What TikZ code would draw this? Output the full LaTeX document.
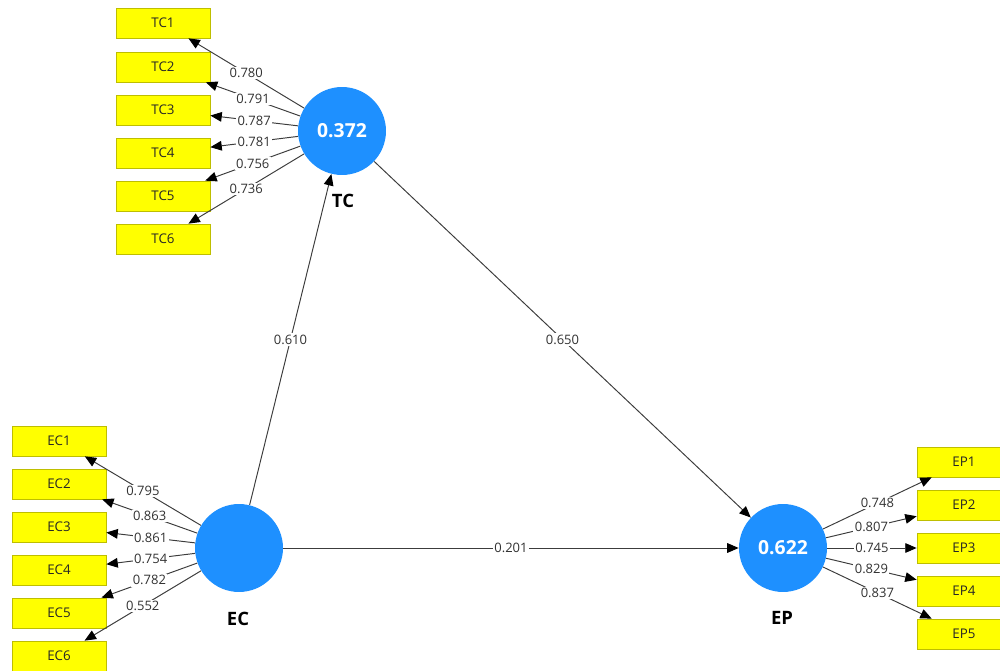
\documentclass[tikz,border=0pt]{standalone}
\usepackage{fontspec}
\setmainfont{Open Sans}
\usetikzlibrary{arrows.meta}
\definecolor{lvblue}{RGB}{30,144,255}
\definecolor{boxyellow}{RGB}{255,255,0}
\definecolor{boxborder}{RGB}{190,190,0}
\definecolor{linegray}{RGB}{60,60,60}
\definecolor{labelgray}{RGB}{50,50,50}
\tikzset{
  ind/.style={draw=boxborder, fill=boxyellow, minimum width=1.88cm, minimum height=0.6cm, inner sep=0pt, font=\fontsize{7.6}{8}\selectfont, text=black!85},
  lv/.style={circle, fill=lvblue, minimum size=1.76cm, inner sep=0pt, text=white, font=\fontsize{11}{12}\selectfont\bfseries},
  lvname/.style={font=\fontsize{10.5}{12}\selectfont\bfseries, text=black},
  arr/.style={draw=linegray, line width=0.55pt, -{Triangle[length=6.5pt,width=5.5pt,color=black]}},
  lbl/.style={fill=white, inner sep=0.8pt, font=\fontsize{7.4}{8}\selectfont, text=labelgray, midway}
}
\begin{document}
\begin{tikzpicture}[x=0.02cm, y=-0.02cm]
\useasboundingbox (0,0) rectangle (1000,671);
\clip (0,0) rectangle (1000,671);
% latent variables
\node[lv] (tc) at (342,131) {0.372};
\node[lv] (ec) at (239,548) {};
\node[lv] (ep) at (783,548) {0.622};
\node[lvname] (tcn) at (343,201) {TC};
\node[lvname] (ecn) at (238,619) {EC};
\node[lvname] (epn) at (782,618) {EP};
% TC indicators
\node[ind] (tc1) at (163,23) {TC1};
\node[ind] (tc2) at (163,67) {TC2};
\node[ind] (tc3) at (163,110) {TC3};
\node[ind] (tc4) at (163,153) {TC4};
\node[ind] (tc5) at (163,196) {TC5};
\node[ind] (tc6) at (163,239) {TC6};
% EC indicators
\node[ind] (ec1) at (59,441) {EC1};
\node[ind] (ec2) at (59,484) {EC2};
\node[ind] (ec3) at (59,527) {EC3};
\node[ind] (ec4) at (59,570) {EC4};
\node[ind] (ec5) at (59,613) {EC5};
\node[ind] (ec6) at (59,656) {EC6};
% EP indicators
\node[ind] (ep1) at (964,462) {EP1};
\node[ind] (ep2) at (964,505) {EP2};
\node[ind] (ep3) at (964,548) {EP3};
\node[ind] (ep4) at (964,591) {EP4};
\node[ind] (ep5) at (964,634) {EP5};
% TC loadings
\draw[arr] (tc) -- node[lbl] {0.780} (tc1);
\draw[arr] (tc) -- node[lbl] {0.791} (tc2);
\draw[arr] (tc) -- node[lbl] {0.787} (tc3);
\draw[arr] (tc) -- node[lbl] {0.781} (tc4);
\draw[arr] (tc) -- node[lbl] {0.756} (tc5);
\draw[arr] (tc) -- node[lbl] {0.736} (tc6);
% EC loadings
\draw[arr] (ec) -- node[lbl] {0.795} (ec1);
\draw[arr] (ec) -- node[lbl] {0.863} (ec2);
\draw[arr] (ec) -- node[lbl] {0.861} (ec3);
\draw[arr] (ec) -- node[lbl] {0.754} (ec4);
\draw[arr] (ec) -- node[lbl] {0.782} (ec5);
\draw[arr] (ec) -- node[lbl] {0.552} (ec6);
% EP loadings
\draw[arr] (ep) -- node[lbl] {0.748} (ep1);
\draw[arr] (ep) -- node[lbl] {0.807} (ep2);
\draw[arr] (ep) -- node[lbl] {0.745} (ep3);
\draw[arr] (ep) -- node[lbl] {0.829} (ep4);
\draw[arr] (ep) -- node[lbl] {0.837} (ep5);
% structural paths
\draw[arr] (ec) -- node[lbl] {0.610} (tc);
\draw[arr] (tc) -- node[lbl] {0.650} (ep);
\draw[arr] (ec) -- node[lbl] {0.201} (ep);
\end{tikzpicture}
\end{document}
